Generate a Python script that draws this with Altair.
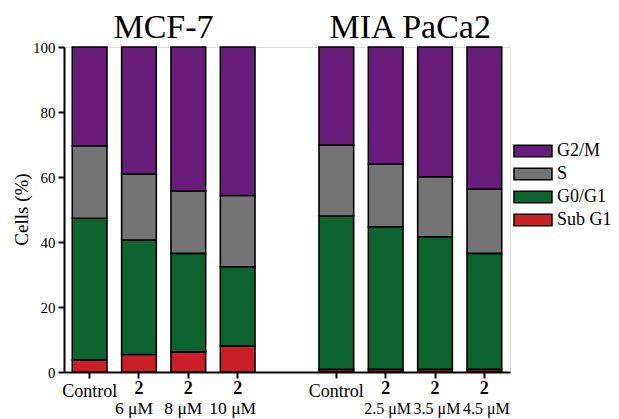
import altair as alt
import pandas as pd

# ---- data ----
bars = ["MCF_Control", "MCF_6", "MCF_8", "MCF_10",
        "MIA_Control", "MIA_2.5", "MIA_3.5", "MIA_4.5"]
x_domain = bars[:4] + ["gap"] + bars[4:]
line1 = ["Control", "2", "2", "2", "Control", "2", "2", "2"]
line2 = ["", "6 μM", "8 μM", "10 μM", "", "2.5 μM", "3.5 μM", "4.5 μM"]
group_of_bar = ["MCF", "MCF", "MCF", "MCF", "MIA", "MIA", "MIA", "MIA"]

phases = ["G2/M", "S", "G0/G1", "Sub G1"]
colors = ["#6a1c7c", "#747474", "#0e6430", "#cc1f26"]

sub_g1 = [3.7, 5.4, 6.2, 8.0, 0.8, 0.8, 0.8, 0.8]
g0_g1 = [43.6, 35.2, 30.3, 24.4, 47.2, 43.9, 40.8, 35.7]
s_phase = [22.3, 20.3, 19.2, 21.9, 21.8, 19.3, 18.5, 19.8]
g2_m = [30.4, 39.1, 44.3, 45.7, 30.2, 36.0, 39.9, 43.7]

groups = ["MCF-7", "MIA PaCa2"]
group_anchor = ["MCF_6", "MIA_2.5"]

FONT = "Liberation Serif, Times New Roman, serif"

rows = []
for i, b in enumerate(bars):
    for ph, vals, order in [("Sub G1", sub_g1, 0), ("G0/G1", g0_g1, 1),
                            ("S", s_phase, 2), ("G2/M", g2_m, 3)]:
        rows.append(dict(bar=b, phase=ph, value=vals[i], order=order))
df = pd.DataFrame(rows)
labels = pd.DataFrame({"bar": bars, "line1": line1, "line2": line2,
                       "grp": group_of_bar})
titles = pd.DataFrame({"bar": group_anchor, "title": groups})

xscale = alt.Scale(domain=x_domain, paddingInner=0.297, paddingOuter=0.168)
xenc = alt.X("bar:N", scale=xscale, sort=x_domain)

bar_layer = alt.Chart(df).mark_bar(stroke="black", strokeWidth=1.6).encode(
    x=alt.X("bar:N", scale=xscale, sort=x_domain,
            axis=alt.Axis(values=bars, labels=False, title=None, grid=False,
                          domainColor="black", domainWidth=2,
                          tickColor="black", tickWidth=2, tickSize=6)),
    y=alt.Y("value:Q", stack="zero",
            scale=alt.Scale(domain=[0, 100], nice=False),
            axis=alt.Axis(values=[0, 20, 40, 60, 80, 100], title="Cells (%)",
                          grid=False, domainColor="black", domainWidth=2,
                          tickColor="black", tickWidth=2, tickSize=6,
                          labelFont=FONT, labelFontSize=15, labelColor="black",
                          labelPadding=3, titleFont=FONT, titleFontSize=19,
                          titleFontWeight="normal", titleColor="black",
                          titleX=-43, titleY=162, titleAngle=270,
                          titleAlign="center", titleBaseline="middle")),
    color=alt.Color("phase:N", scale=alt.Scale(domain=phases, range=colors),
                    legend=alt.Legend(title=None, orient="none",
                                      legendX=447, legendY=95,
                                      symbolType="M-1,-0.95H5.33V0.95H-1Z",
                                      symbolSize=144,
                                      symbolStrokeColor="black",
                                      symbolStrokeWidth=1.5,
                                      symbolOpacity=1,
                                      labelFont=FONT, labelFontSize=18,
                                      labelColor="black", labelOffset=28,
                                      rowPadding=5, labelLimit=200)),
    order=alt.Order("order:Q", sort="ascending"),
)

ctrl_text = alt.Chart(labels).transform_filter(
    alt.datum.line1 == "Control"
).mark_text(font=FONT, fontSize=18, baseline="middle", color="black").encode(
    x=xenc, y=alt.value(345), text="line1:N",
)

bold_text = alt.Chart(labels).transform_filter(
    alt.datum.line1 != "Control"
).mark_text(font=FONT, fontSize=18, fontWeight="bold", baseline="middle",
            color="black").encode(
    x=xenc, y=alt.value(342), text="line1:N",
)

conc_mcf = alt.Chart(labels).transform_filter(
    (alt.datum.line2 != "") & (alt.datum.grp == "MCF")
).mark_text(font=FONT, fontSize=17.5, baseline="middle", color="black",
            dx=-5).encode(
    x=xenc, y=alt.value(362), text="line2:N",
)

conc_mia = alt.Chart(labels).transform_filter(
    (alt.datum.line2 != "") & (alt.datum.grp == "MIA")
).mark_text(font=FONT, fontSize=16, baseline="middle", color="black",
            dx=2).encode(
    x=xenc, y=alt.value(362), text="line2:N",
)

title_text = alt.Chart(titles).mark_text(
    font=FONT, fontSize=34, baseline="alphabetic", color="black", dx=24.5
).encode(
    x=xenc, y=alt.value(-9), text="title:N",
)

chart = alt.layer(bar_layer, ctrl_text, bold_text, conc_mcf, conc_mia,
                  title_text).properties(
    width=446,
    height=325,
    autosize=alt.AutoSizeParams(type="none"),
    padding={"left": 64, "top": 47, "right": 109, "bottom": 47},
    background="white",
).configure_view(stroke=None).configure(font=FONT)

chart.save("out.html", embed_options={"renderer": "svg", "actions": False})
